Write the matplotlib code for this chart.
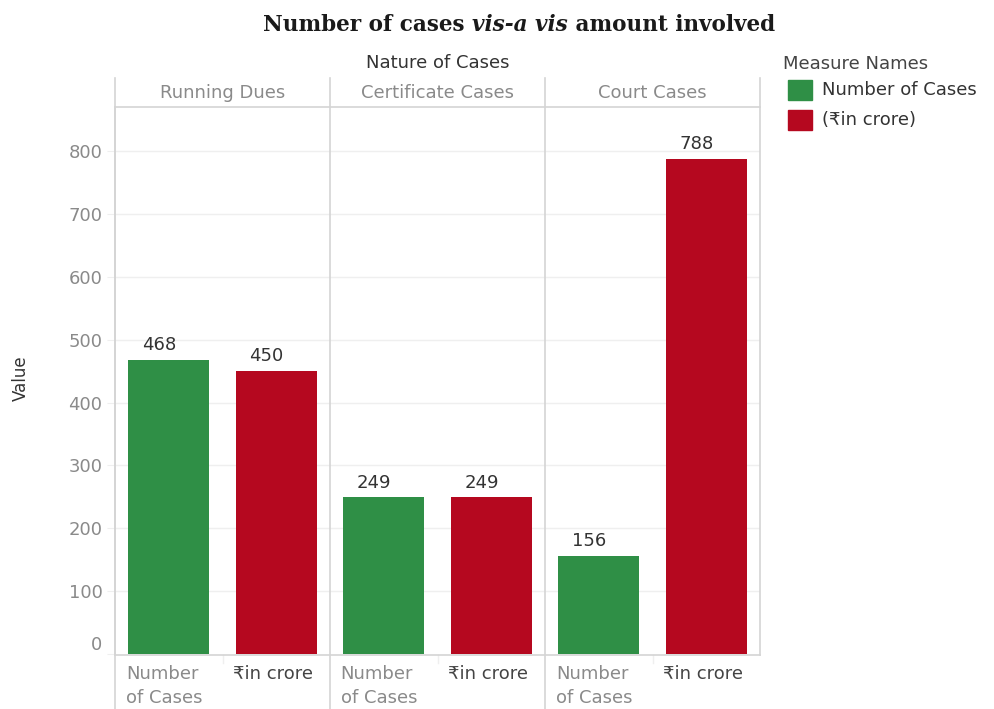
import matplotlib
matplotlib.use("Agg")
import matplotlib.pyplot as plt
import numpy as np

# --- dane ---
panels = ["Running Dues", "Certificate Cases", "Court Cases"]
measures = ["Number of Cases", "(₹in crore)"]
measure_ticks = ["Number\nof Cases", "₹in crore"]
num_cases = [468, 249, 156]
amount_crore = [450, 249, 788]
y_ticks = [0, 100, 200, 300, 400, 500, 600, 700, 800]

GREEN = "#2f8f46"
RED = "#b5081f"
GRID = "#efefef"
LINE = "#d4d4d4"
TICK = "#8a8a8a"
DARK = "#333333"
FS = 13

plt.rcParams["font.family"] = ["DejaVu Sans"]

W, H = 994, 709
fig = plt.figure(figsize=(W / 100, H / 100), dpi=100)


def fx(px):
    return px / W


def fy(py):
    return 1 - py / H


# główna oś z wykresem słupkowym
left, right, top, bottom = 115, 760, 107, 655
ax = fig.add_axes([fx(left), fy(bottom), fx(right - left), (bottom - top) / H])

n = len(panels)
x_green = np.arange(n) * 2
x_red = x_green + 1
bw = 0.75
ax.bar(x_green, num_cases, width=bw, color=GREEN, zorder=2)
ax.bar(x_red, amount_crore, width=bw, color=RED, zorder=2)

# etykiety wartości (lekko w lewo od środka słupka)
for xs, vals in ((x_green, num_cases), (x_red, amount_crore)):
    for x, v in zip(xs, vals):
        ax.text(x - 0.09, v + 9, str(v), ha="center", va="bottom", fontsize=FS, color=DARK)

ax.set_xlim(-0.5, 2 * n - 0.5)
ax.set_ylim(-1.5, 870)
ax.set_yticks(y_ticks)
ax.set_yticklabels([str(t) for t in y_ticks])
ax.tick_params(axis="y", length=6, color=GRID, labelsize=FS, labelcolor=TICK, pad=3)
ax.tick_params(axis="x", length=0, labelbottom=False)
# etykieta 0 przesunięta w górę, jak w Tableau
ax.get_yticklabels()[0].set_verticalalignment("bottom")

for t in y_ticks[1:]:
    ax.axhline(t, color=GRID, lw=1, zorder=0)

for s in ("top", "right"):
    ax.spines[s].set_visible(False)
ax.spines["left"].set_color(LINE)
ax.spines["bottom"].set_color(LINE)
ax.spines["left"].set_linewidth(1.2)
ax.spines["bottom"].set_linewidth(1.2)

# linie podziału paneli (od nagłówka aż do dołu etykiet)
trans = ax.get_xaxis_transform()
y_hi = (bottom - 78) / (bottom - top)
y_lo = -(H - bottom) / (bottom - top)
for i in range(n + 1):
    xline = 2 * i - 0.5
    lo = y_lo if i < n else 0
    ax.plot([xline, xline], [lo, y_hi], transform=trans, color=LINE, lw=1.2,
            clip_on=False, zorder=3)
# pozioma linia pod nagłówkiem
ax.plot([-0.5, 2 * n - 0.5], [1, 1], transform=trans, color=LINE, lw=1.2, clip_on=False)

# nagłówki paneli
y_head = (bottom - 93) / (bottom - top)
for i, name in enumerate(panels):
    ax.text(2 * i + 0.5, y_head, name, transform=trans, ha="center", va="center",
            fontsize=FS, color=TICK)
ax.text(2 * n / 2 - 0.5, (bottom - 63) / (bottom - top), "Nature of Cases",
        transform=trans, ha="center", va="center", fontsize=FS, color=DARK)

# etykiety kategorii pod osią
y_lab = -(665 - bottom) / (bottom - top)
for i in range(n):
    for j, lab in enumerate(measure_ticks):
        xc = 2 * i + j - 0.5
        ax.text(xc + 0.1, y_lab, lab, transform=trans, ha="left", va="top",
                fontsize=FS, color=TICK if j == 0 else "#444444", linespacing=1.45)
    # mały znacznik między kategoriami
    ax.plot([2 * i + 0.5, 2 * i + 0.5], [0, -8 / (bottom - top)], transform=trans,
            color=GRID, lw=1, clip_on=False)

fig.text(fx(21), fy(378), "Value", rotation=90, ha="center", va="center",
         fontsize=12, color=DARK)

# tytuł: pogrubiony szeryf z kursywą w środku
title_kw = dict(fontsize=15.5, fontweight="bold", color="#1a1a1a", family="DejaVu Serif")
t1 = fig.text(fx(262), fy(25), "Number of cases ", va="center", ha="left", **title_kw)
t2 = ax.annotate("vis-a vis", xy=(1, 0), xycoords=t1, va="bottom", ha="left",
                 annotation_clip=False, style="italic", **title_kw)
t3 = ax.annotate(" amount involved", xy=(1, 0), xycoords=t2, va="bottom", ha="left",
                 annotation_clip=False, **title_kw)

# wyśrodkowanie tytułu nad x = 519 px
r = fig.canvas.get_renderer()
x0 = t1.get_window_extent(r).x0
x1 = t3.get_window_extent(r).x1
t1.set_x(fx(519) - (x1 - x0) / 2 / W)

# legenda
fig.text(fx(783), fy(64), "Measure Names", ha="left", va="center", fontsize=FS, color="#444444")
for k, (lab, col) in enumerate(zip(measures, (GREEN, RED))):
    yc = 90 + 30 * k
    fig.patches.append(plt.Rectangle((fx(788), fy(yc + 10)), fx(24), 20 / H,
                                     transform=fig.transFigure, color=col))
    fig.text(fx(822), fy(yc), lab, ha="left", va="center", fontsize=FS, color=DARK)

fig.savefig("out.png", dpi=100, facecolor="white")
